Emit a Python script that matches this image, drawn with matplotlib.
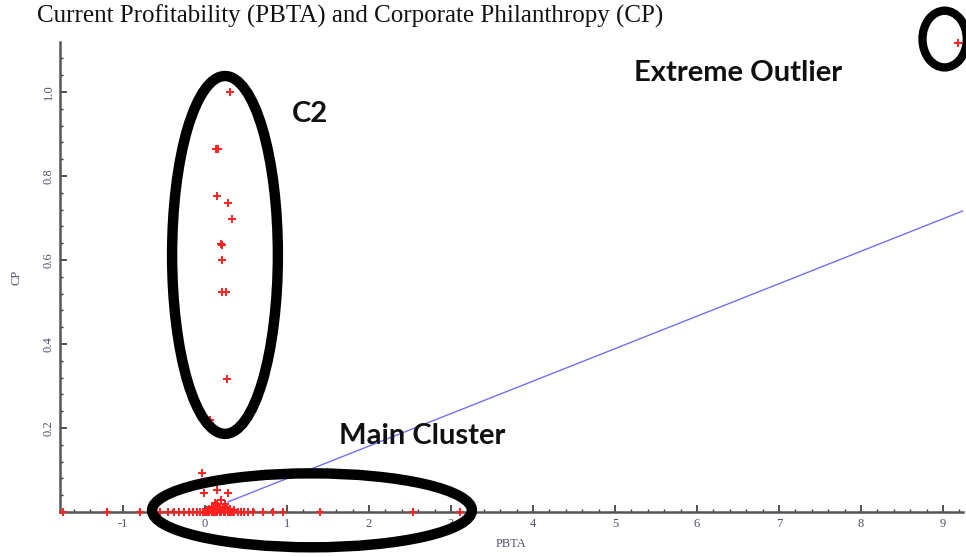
import numpy as np
import matplotlib.pyplot as plt
from matplotlib.patches import Ellipse
from matplotlib.ticker import MultipleLocator

# firms with high philanthropy (group C2)
c2_pbta = [0.30, 0.14, 0.16, 0.15, 0.28, 0.33, 0.19, 0.21, 0.21, 0.21, 0.26, 0.27, 0.06]
c2_cp = [1.00, 0.864, 0.864, 0.752, 0.736, 0.698, 0.638, 0.636, 0.600, 0.524, 0.524, 0.317, 0.220]

# main cluster of firms close to zero philanthropy
cluster_pbta = [-1.73, -1.20, -0.79, -0.55, -0.45, -0.38, -0.32, -0.25, -0.20, -0.15,
                -0.10, -0.06, -0.02, 0.00, 0.03, 0.05, 0.08, 0.10, 0.12, 0.15,
                0.18, 0.20, 0.23, 0.25, 0.28, 0.30, 0.33, 0.36, 0.40, 0.44,
                0.48, 0.52, 0.59, 0.71, 0.83, 0.95, 1.40, 2.54, 3.11,
                -0.04, -0.01, 0.15, 0.28,
                0.05, 0.08, 0.10, 0.12, 0.15, 0.18, 0.20, 0.22, 0.25, 0.30, 0.02, 0.35,
                0.07, 0.13, 0.17, 0.24, 0.27]
cluster_cp = [0.0, 0.0, 0.0, 0.0, 0.0, 0.0, 0.0, 0.0, 0.0, 0.0,
              0.0, 0.0, 0.0, 0.0, 0.0, 0.0, 0.0, 0.0, 0.0, 0.0,
              0.0, 0.0, 0.0, 0.0, 0.0, 0.0, 0.0, 0.0, 0.0, 0.0,
              0.0, 0.0, 0.0, 0.0, 0.0, 0.0, 0.0, 0.0, 0.0,
              0.093, 0.045, 0.052, 0.045,
              0.006, 0.012, 0.008, 0.022, 0.018, 0.010, 0.028, 0.012, 0.020, 0.008, 0.004, 0.005,
              0.005, 0.010, 0.006, 0.012, 0.006]

# extreme outlier
outlier_pbta = [9.18]
outlier_cp = [1.117]

# fitted regression line CP = a + b * PBTA
fit_a = 0.0024
fit_b = 0.0773
fit_x = [0.28, 9.3]

x_major = [-1, 0, 1, 2, 3, 4, 5, 6, 7, 8, 9]
y_major = [0.2, 0.4, 0.6, 0.8, 1.0]

fig = plt.figure(figsize=(9.66, 5.57), dpi=100)
ax = fig.add_axes([60 / 966, 45 / 557, 903 / 966, 470 / 557])

pbta = np.array(c2_pbta + cluster_pbta + outlier_pbta)
cp = np.array(c2_cp + cluster_cp + outlier_cp)
ax.scatter(pbta, cp, marker='+', s=30, color='#ff2020', linewidths=1.4, zorder=3, clip_on=False)

fx = np.array(fit_x)
ax.plot(fx, fit_a + fit_b * fx, color='#7070ff', lw=1.0, zorder=2)

ax.set_xlim(-1.768, 9.244)
ax.set_ylim(0, 1.119)

for s in ['top', 'right']:
    ax.spines[s].set_visible(False)
for s in ['left', 'bottom']:
    ax.spines[s].set_color('#555555')
    ax.spines[s].set_linewidth(1.8)

ax.set_xticks(x_major)
ax.set_yticks(y_major)
ax.set_xticklabels(['-1', '0', '1', '2', '3', '4', '5', '6', '7', '8', '9'])
ax.set_yticklabels(['0.2', '0.4', '0.6', '0.8', '1.0'], rotation=90, va='center')
ax.xaxis.set_minor_locator(MultipleLocator(0.2))
ax.yaxis.set_minor_locator(MultipleLocator(0.04))
ax.tick_params(which='major', direction='in', length=5, width=1.2, color='#333333',
               labelsize=9, labelcolor='#505070', pad=4)
ax.tick_params(which='minor', direction='in', length=2.5, width=1.0, color='#333333')
for lab in ax.get_xticklabels() + ax.get_yticklabels():
    lab.set_family('Liberation Serif')

ax.set_xlabel('PBTA', family='Liberation Serif', fontsize=9, color='#505070', labelpad=6)
ax.set_ylabel('CP', family='Liberation Serif', fontsize=9, color='#505070', labelpad=14)

# hand-drawn group outlines
ring = dict(fill=False, edgecolor='black', clip_on=False, zorder=4)
ax.add_patch(Ellipse((0.244, 0.612), 1.29, 0.852, lw=7.5, **ring))
ax.add_patch(Ellipse((1.305, 0.004), 3.90, 0.176, lw=7.5, **ring))
ax.add_patch(Ellipse((9.02, 1.126), 0.54, 0.135, lw=6.0, **ring))

lbl = dict(family='Lato', fontweight='bold', fontsize=21, color='#111111',
           ha='center', va='center')
fig.text(310 / 966, 1 - 114 / 557, 'C2', **lbl)
fig.text(738 / 966, 1 - 73 / 557, 'Extreme Outlier', **lbl)
fig.text(422 / 966, 1 - 436 / 557, 'Main Cluster', **lbl)

fig.text(37 / 966, 1 - 23 / 557,
         'Current Profitability (PBTA) and Corporate Philanthropy (CP)',
         family='Liberation Serif', fontsize=18, color='#111111', va='baseline')

fig.savefig('out.png', dpi=100)
